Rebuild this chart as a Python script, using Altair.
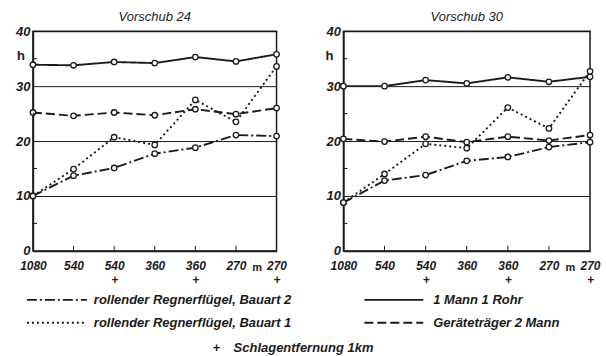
import altair as alt
import pandas as pd

# ---------------- data ----------------
x_idx = [0, 1, 2, 3, 4, 5, 6]
x_labels = ["1080", "540", "540", "360", "360", "270", "270"]
x_plus = [False, False, True, False, True, False, True]

series_names = [
    "1 Mann 1 Rohr",
    "Geräteträger 2 Mann",
    "rollender Regnerflügel, Bauart 1",
    "rollender Regnerflügel, Bauart 2",
]

# Vorschub 24
v24_rohr = [33.9, 33.8, 34.4, 34.2, 35.3, 34.5, 35.8]
v24_geraet = [25.2, 24.6, 25.2, 24.7, 25.8, 24.9, 26.0]
v24_bauart1 = [10.0, 14.9, 20.7, 19.3, 27.5, 23.5, 33.6]
v24_bauart2 = [10.0, 13.7, 15.1, 17.7, 18.8, 21.1, 20.9]

# Vorschub 30
v30_rohr = [30.0, 30.0, 31.1, 30.5, 31.6, 30.8, 31.7]
v30_geraet = [20.4, 19.9, 20.8, 19.8, 20.8, 20.1, 21.1]
v30_bauart1 = [8.8, 14.0, 19.5, 18.7, 26.1, 22.3, 32.7]
v30_bauart2 = [8.8, 12.8, 13.8, 16.4, 17.1, 18.9, 19.8]

y_ticks = [0, 10, 20, 30, 40]
y_minor = [5, 15, 25, 35]

legend_order = [
    "rollender Regnerflügel, Bauart 2",
    "rollender Regnerflügel, Bauart 1",
    "1 Mann 1 Rohr",
    "Geräteträger 2 Mann",
]
footnote_mark = "+"
footnote = "Schlagentfernung 1km"

# ---------------- styling ----------------
INK = "#1b1b1b"
FONT = "Liberation Sans"
dash_map = {
    "1 Mann 1 Rohr": [1, 0],
    "Geräteträger 2 Mann": [9, 4],
    "rollender Regnerflügel, Bauart 1": [2, 3],
    "rollender Regnerflügel, Bauart 2": [10, 3, 2, 3],
}
dash_scale = alt.Scale(domain=series_names, range=[dash_map[s] for s in series_names])


def make_label_expr():
    parts = []
    for i, lab, p in zip(x_idx, x_labels, x_plus):
        txt = f"['{lab}', '+']" if p else f"'{lab}'"
        parts.append((i, txt))
    expr = parts[-1][1]
    for i, txt in reversed(parts[:-1]):
        expr = f"datum.value == {i} ? {txt} : ({expr})"
    return expr


label_expr = make_label_expr()


def long_df(rohr, geraet, b1, b2):
    rows = []
    for name, vals in zip(series_names, [rohr, geraet, b1, b2]):
        for i, v in zip(x_idx, vals):
            rows.append({"idx": i, "value": v, "series": name})
    return pd.DataFrame(rows)


def text_mark(size, style="italic", weight="bold", align="left"):
    return dict(font=FONT, fontSize=size, fontStyle=style, fontWeight=weight,
                color=INK, align=align, baseline="middle")


def legend_layers():
    layers = []
    for k, name in enumerate(legend_order):
        col, row = divmod(k, 2)
        x1 = -6 if col == 0 else 332
        x2 = 54 if col == 0 else 391
        tx = 61 if col == 0 else 401
        ty = 269 + row * 23
        d = pd.DataFrame({"t": [name]})
        layers.append(
            alt.Chart(d).mark_rule(color=INK, strokeWidth=1.8, strokeDash=dash_map[name]).encode(
                x=alt.value(x1), x2=alt.value(x2), y=alt.value(ty)
            )
        )
        layers.append(
            alt.Chart(d).mark_text(**text_mark(13)).encode(
                text="t:N", x=alt.value(tx), y=alt.value(ty)
            )
        )
    layers.append(
        alt.Chart(pd.DataFrame({"t": [footnote_mark]})).mark_text(
            **text_mark(13, style="normal", align="center")
        ).encode(text="t:N", x=alt.value(184), y=alt.value(317))
    )
    layers.append(
        alt.Chart(pd.DataFrame({"t": [footnote]})).mark_text(**text_mark(13)).encode(
            text="t:N", x=alt.value(201), y=alt.value(317)
        )
    )
    return layers


def panel(df, title, w, h_dx, with_legend):
    x_enc = alt.X(
        "idx:Q",
        scale=alt.Scale(domain=[0, 6], nice=False, zero=False),
        axis=alt.Axis(
            values=x_idx, labelExpr=label_expr, title=None, grid=False,
            ticks=False, domain=True, domainColor=INK, domainWidth=1.5,
            labelFont=FONT, labelFontSize=12, labelFontStyle="italic",
            labelFontWeight="bold", labelColor=INK, labelPadding=10,
            labelLineHeight=14, labelFlush=False, labelOverlap=False,
        ),
    )
    y_enc = alt.Y(
        "value:Q",
        scale=alt.Scale(domain=[0, 40], nice=False),
        axis=alt.Axis(
            values=y_ticks, title=None, grid=True, gridColor=INK,
            gridWidth=1, gridOpacity=1, ticks=False, domain=True,
            domainColor=INK, domainWidth=1.5, labelFont=FONT,
            labelFontSize=13, labelFontStyle="italic", labelFontWeight="bold",
            labelColor=INK, labelPadding=3,
        ),
    )
    base = alt.Chart(df)
    lines = base.mark_line(color=INK, strokeWidth=1.9).encode(
        x=x_enc, y=y_enc,
        strokeDash=alt.StrokeDash("series:N", scale=dash_scale, legend=None),
    )
    pts = base.mark_point(
        shape="circle", filled=True, fill="white", stroke=INK,
        strokeWidth=1.3, size=30, opacity=1,
    ).encode(x="idx:Q", y="value:Q", detail="series:N")

    minor = alt.Chart(pd.DataFrame({"v": y_minor})).mark_rule(
        color=INK, strokeWidth=1
    ).encode(y="v:Q", x=alt.value(0), x2=alt.value(4))
    xt = alt.Chart(pd.DataFrame({"i": x_idx[1:-1]})).mark_rule(
        color=INK, strokeWidth=1
    ).encode(x="i:Q", y=alt.value(220), y2=alt.value(215))

    h_txt = alt.Chart(pd.DataFrame({"t": ["h"]})).mark_text(
        **text_mark(13, style="normal", align="center")
    ).encode(text="t:N", x=alt.value(h_dx), y=alt.value(25))
    m_txt = alt.Chart(pd.DataFrame({"t": ["m"], "i": [5.52]})).mark_text(
        **text_mark(11, style="normal", align="center")
    ).encode(text="t:N", x="i:Q", y=alt.value(237))

    layers = [lines, pts, minor, xt, h_txt, m_txt]
    if with_legend:
        layers += legend_layers()
    return alt.layer(*layers).properties(
        width=w, height=220,
        title=alt.TitleParams(
            title, font=FONT, fontSize=13, fontStyle="italic",
            fontWeight="normal", color=INK, anchor="middle", offset=1,
        ),
    )


left = panel(long_df(v24_rohr, v24_geraet, v24_bauart1, v24_bauart2), "Vorschub 24", 244, -12, True)
right = panel(long_df(v30_rohr, v30_geraet, v30_bauart1, v30_bauart2), "Vorschub 30", 247, -14, False)

chart = alt.hconcat(left, right, spacing=67, bounds="flush").properties(
    padding={"left": 14, "top": 10, "right": 5, "bottom": 0},
    background="white",
).configure_view(stroke=INK, strokeWidth=1.5)

chart.save("out.html", embed_options={"renderer": "svg", "actions": False})
